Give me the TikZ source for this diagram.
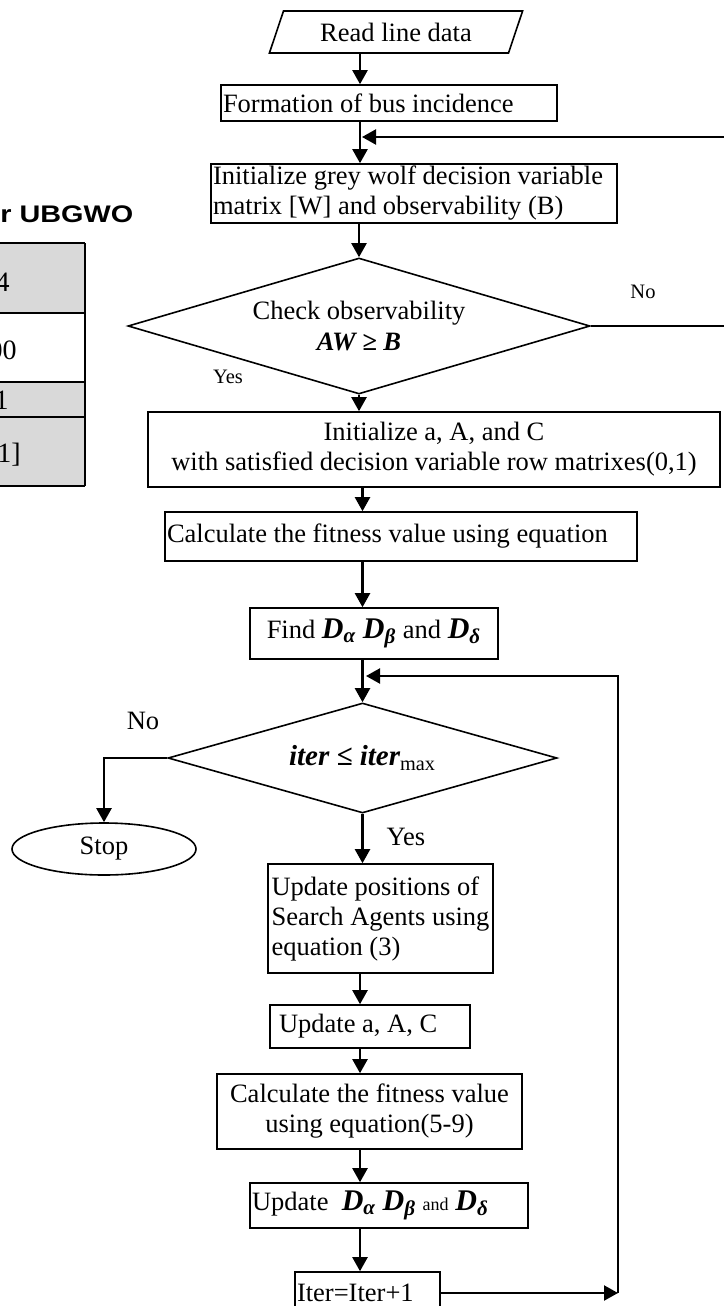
\documentclass[tikz,border=0pt]{standalone}
\usepackage{graphicx}
\usepackage{fontspec}
\setmainfont{Liberation Serif}
\newfontfamily\titlefont{Liberation Sans}
\usetikzlibrary{shapes.geometric, arrows.meta}
\definecolor{cellgray}{HTML}{D9D9D9}
\newcommand{\bigD}[1]{{\fontsize{15}{15}\selectfont\bfseries\itshape D\textsubscript{#1}}}
\tikzset{
  box/.style={draw, line width=0.8pt, inner xsep=1pt, inner ysep=1pt},
  decision/.style={draw, diamond, line width=0.8pt, inner sep=0pt},
  arr/.style={line width=1.1pt, -{Triangle[width=7.5pt,length=7pt]}},
  lbl/.style={font=\fontsize{10.25}{12}\selectfont},
  cell/.style={anchor=east, inner sep=0pt, font=\fontsize{14}{16}\selectfont}
}

\begin{document}
\begin{tikzpicture}[x=0.5pt, y=-0.5pt, font=\fontsize{13.25}{15}\selectfont]
		\useasboundingbox (0,0) rectangle (723,1306);
		% table on the left
		\node[anchor=base west, inner sep=0pt] (tabtitle) at (0,222) {\titlefont\fontsize{12}{14}\selectfont\bfseries\scalebox{1.2}[1]{r UBGWO}};
		\fill[cellgray] (-5,243) rectangle (85,313);
		\fill[cellgray] (-5,382) rectangle (85,486);
		\foreach \y in {243,313,382,417,486}
			\draw[line width=1pt] (-5,\y) -- (85,\y);
		\draw[line width=1pt] (85,243) -- (85,486);
		\node[cell] (cellA) at (10,282) {4};
		\node[cell] (cellB) at (17,350) {00};
		\node[cell] (cellC) at (9,400) {1};
		\node[cell] (cellD) at (21,455) {1]};
		% flowchart
		\coordinate (spine) at (360,0);
		\node[draw, line width=0.8pt, trapezium, trapezium stretches, trapezium left angle=63, trapezium right angle=117, minimum width=127pt, minimum height=21pt, inner sep=0pt] (readdata) at (396,32) {Read line data};
		\node[box, text width=166pt, align=flush left, minimum height=18pt] (formation) at (389,103) {Formation of bus incidence};
		\node[box, text width=201pt, align=flush left, minimum height=29.5pt] (initwolf) at (414,193.5) {Initialize grey wolf decision variable\\matrix [W] and observability (B)};
		\node[decision, aspect=3.4, minimum width=231pt, minimum height=68pt, align=center] (checkobs) at (359,326) {Check observability\\[0.5pt]{\bfseries\itshape AW ≥ B}};
		\node[box, minimum width=286pt, minimum height=37.5pt, align=center] (initA) at (434,449.5) {Initialize a, A, and C\\with satisfied decision variable row matrixes(0,1)};
		\node[box, text width=234pt, align=flush left, minimum height=24.5pt] (calcfit) at (401,536.5) {Calculate the fitness value using equation};
		\node[box, minimum width=124pt, minimum height=25.5pt] (findD) at (374,633.5) {Find \bigD{α} \bigD{β} and \bigD{δ}};
		\node[decision, aspect=3.5, minimum width=194.5pt, minimum height=55pt] (iterchk) at (362.5,758) {\fontsize{14.5}{15}\selectfont{\bfseries\itshape iter ≤ iter}\textsubscript{\normalfont max}};
		\node[draw, ellipse, line width=0.8pt, minimum width=92pt, minimum height=26pt, inner sep=0pt] (stopnode) at (104,849) {Stop};
		\node[box, align=flush left, minimum width=112.5pt, minimum height=54.5pt] (updpos) at (380.5,918.5) {Update positions of\\Search Agents using\\equation (3)};
		\node[box, inner xsep=4.5pt, text width=91pt, align=flush left, minimum height=21.5pt] (updaAC) at (370,1026.5) {Update a, A, C};
		\node[box, minimum width=152.5pt, minimum height=37.5pt, align=center] (calcfit2) at (369.5,1111.5) {Calculate the fitness value\\using equation(5-9)};
		\node[box, text width=137pt, align=flush left, minimum height=22.5pt] (updD) at (389,1205.5) {Update\ \ \bigD{α} \bigD{β} {\small and} \bigD{δ}};
		\node[box, text width=70.5pt, align=flush left, minimum height=21pt] (iterinc) at (367.5,1293) {Iter=Iter+1};
		% labels
		\node[lbl] (nolbl) at (643,292) {No};
		\node[lbl] (yeslbl) at (228,377) {Yes};
		\node (nolbltwo) at (143,721) {No};
		\node (yeslbltwo) at (406,837) {Yes};
		% connectors
		\draw[arr] (readdata.south -| spine) -- (formation.north -| spine);
		\draw[arr] (formation.south -| spine) -- (initwolf.north -| spine);
		\draw[arr] (initwolf.south -| checkobs.north) -- (checkobs.north);
		\draw[arr] (checkobs.south) -- (initA.north -| checkobs.south);
		\draw[arr] (initA.south -| iterchk.north) -- (calcfit.north -| iterchk.north);
		\draw[arr] (calcfit.south -| iterchk.north) -- (findD.north -| iterchk.north);
		\draw[arr] (findD.south -| iterchk.north) -- (iterchk.north);
		\draw[arr] (iterchk.south) -- (updpos.north -| iterchk.south);
		\draw[arr] (iterchk.west) -| (stopnode.north);
		\draw[arr] (updpos.south -| spine) -- (updaAC.north -| spine);
		\draw[arr] (updaAC.south -| spine) -- (calcfit2.north -| spine);
		\draw[arr] (calcfit2.south -| spine) -- (updD.north -| spine);
		\draw[arr] (updD.south -| spine) -- (iterinc.north -| spine);
		% loops back
		\coordinate (loopin) at (362,137);
		\coordinate (rail) at (618,0);
		\coordinate (loopback) at (366,676);
		\draw[arr] (checkobs.east) -- ++(160,0) |- (loopin);
		\draw[arr] (iterinc.east) -- (iterinc.east -| rail);
		\draw[arr] (iterinc.east -| rail) |- (loopback);
	\end{tikzpicture}
\end{document}
